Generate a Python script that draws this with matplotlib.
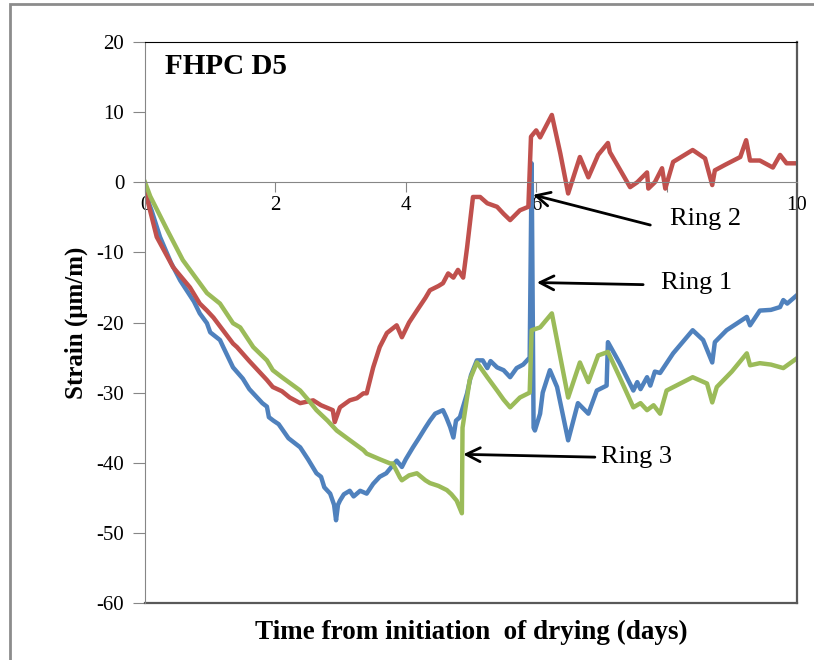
import matplotlib.pyplot as plt
from matplotlib.patches import Rectangle

plt.rcParams['font.family'] = ['Liberation Serif', 'DejaVu Serif']
plt.rcParams['axes.unicode_minus'] = False

# Ring 1 (blue)
ring1_x = [0, 0.1, 0.23, 0.4, 0.54, 0.75, 0.84, 0.95, 1.0, 1.15, 1.2, 1.35, 1.5, 1.6, 1.7,
           1.8, 1.87, 1.9, 1.97, 2.05, 2.2, 2.38, 2.5, 2.63, 2.7, 2.75, 2.84, 2.9, 2.93, 2.96,
           2.99, 3.05, 3.14, 3.2, 3.3, 3.4, 3.5, 3.6, 3.7, 3.86, 3.94, 4.0, 4.11, 4.2, 4.3,
           4.37, 4.45, 4.57, 4.62, 4.68, 4.73, 4.77, 4.83, 4.94, 5.0, 5.09, 5.18, 5.25, 5.3,
           5.4, 5.5, 5.6, 5.7, 5.8, 5.9, 5.93, 5.96, 5.98, 6.06, 6.1, 6.21, 6.32, 6.49, 6.64,
           6.8, 6.93, 7.08, 7.1, 7.28, 7.49, 7.55, 7.6, 7.7, 7.75, 7.82, 7.9, 8.1, 8.4, 8.56,
           8.7, 8.74, 8.92, 9.1, 9.23, 9.28, 9.43, 9.6, 9.74, 9.79, 9.85, 10.0]
ring1_y = [-1.5, -4, -7.8, -11.5, -14, -17, -18.7, -20.1, -21.4, -22.5, -23.5, -26.4, -28, -29.5, -30.5,
           -31.5, -32, -33.5, -34, -34.5, -36.5, -37.8, -39.5, -41.5, -42, -43.5, -44.4, -46, -48.2, -46,
           -45.4, -44.5, -44, -44.8, -44, -44.4, -43, -42, -41.5, -39.7, -40.6, -39.5, -37.8, -36.5, -35,
           -34, -33, -32.5, -33.5, -34.9, -36.4, -34, -33.5, -30.1, -27.5, -25.4, -25.4, -26.5, -25.5,
           -26.4, -26.8, -27.8, -26.5, -26, -25, 2.7, -35, -35.4, -33, -30, -26.8, -29.2, -36.8, -31.5,
           -33, -29.7, -29, -22.8, -25.8, -29.7, -28.5, -29.5, -27.8, -29, -27, -27.2, -24.4, -21.1, -22.5,
           -25.7, -22.8, -21.1, -20, -19.2, -20.4, -18.3, -18.2, -17.8, -16.8, -17.3, -16.1]

# Ring 2 (red)
ring2_x = [0, 0.05, 0.18, 0.43, 0.69, 0.84, 0.95, 1.05, 1.35, 1.41, 1.6, 1.87, 1.96, 2.1, 2.22,
           2.38, 2.58, 2.7, 2.88, 2.91, 2.99, 3.14, 3.25, 3.35, 3.4, 3.5, 3.6, 3.71, 3.86, 3.94,
           4.05, 4.17, 4.3, 4.37, 4.5, 4.57, 4.65, 4.73, 4.8, 4.88, 4.94, 5.03, 5.14, 5.25, 5.4,
           5.5, 5.6, 5.75, 5.88, 5.92, 6.0, 6.06, 6.24, 6.37, 6.49, 6.67, 6.8, 6.95, 7.1, 7.13,
           7.44, 7.55, 7.7, 7.72, 7.82, 7.93, 7.98, 8.1, 8.4, 8.59, 8.7, 8.74, 8.9, 9.13, 9.22,
           9.28, 9.43, 9.63, 9.74, 9.84, 10.0]
ring2_y = [-1.5, -3, -7.8, -12.1, -15, -17.3, -18.3, -19.3, -23, -23.5, -25.5, -28.2, -29.2, -29.8, -30.7,
           -31.5, -31.1, -31.8, -32.5, -34.2, -32.1, -31.1, -30.8, -30.1, -30.1, -26.4, -23.5, -21.5, -20.4, -22.1,
           -20, -18.3, -16.5, -15.4, -14.8, -14.4, -13, -13.6, -12.5, -13.6, -9.3, -2.1, -2.1, -3, -3.5,
           -4.5, -5.4, -4, -3.5, 6.5, 7.4, 6.4, 9.6, 4.1, -1.6, 3.6, 0.7, 3.9, 5.6, 4.3,
           -0.7, 0, 1.4, -0.9, 0, 2, -0.9, 2.9, 4.6, 3.4, -0.4, 1.7, 2.5, 3.6, 6,
           3.1, 3.1, 2.1, 3.9, 2.7, 2.7]

# Ring 3 (green)
ring3_x = [0, 0.08, 0.34, 0.58, 0.84, 0.95, 1.15, 1.35, 1.46, 1.66, 1.87, 1.96, 2.1, 2.38, 2.5,
           2.63, 2.8, 2.94, 3.1, 3.35, 3.4, 3.6, 3.76, 3.8, 3.91, 3.94, 4.05, 4.17, 4.3, 4.37,
           4.5, 4.63, 4.7, 4.78, 4.86, 4.87, 4.98, 5.09, 5.25, 5.4, 5.5, 5.6, 5.75, 5.9, 5.93,
           6.06, 6.24, 6.49, 6.67, 6.8, 6.95, 7.1, 7.28, 7.49, 7.6, 7.7, 7.8, 7.9, 8.0, 8.4,
           8.62, 8.7, 8.77, 9.0, 9.23, 9.28, 9.43, 9.6, 9.79, 10.0]
ring3_y = [0, -2, -6.8, -11.1, -14.4, -15.8, -17.3, -20.1, -20.7, -23.5, -25.4, -26.8, -27.8, -29.7, -31,
           -32.5, -34, -35.4, -36.5, -38.2, -38.7, -39.5, -40.1, -40.1, -42.1, -42.5, -41.8, -41.5, -42.5, -42.9,
           -43.3, -43.9, -44.5, -45.4, -47.2, -35, -28.2, -25.7, -27.8, -29.7, -31, -32.1, -30.7, -30, -21.1,
           -20.7, -18.7, -30.7, -25.7, -28.5, -24.7, -24.2, -27.8, -32.1, -31.5, -32.5, -31.8, -33, -29.7, -27.8,
           -28.7, -31.4, -29.2, -27, -24.4, -26.1, -25.8, -26, -26.5, -25.1]

y_ticks = [20, 10, 0, -10, -20, -30, -40, -50, -60]
x_ticks = [0, 2, 4, 6, 8, 10]
# the "8" label is hidden behind the Ring 2 callout in the original
x_ticklabels = ['0', '2', '4', '6', '', '10']

fig = plt.figure(figsize=(8.14, 6.6), dpi=100)
fig.patches.append(Rectangle((10 / 814, -0.1), 1.2, 1.1 - 4 / 660, transform=fig.transFigure,
                             fill=False, edgecolor='#8c8c8c', linewidth=2))
ax = fig.add_axes([145 / 814, 57 / 660, 652 / 814, 561 / 660])

ax.plot(ring1_x, ring1_y, color='#4F81BD', lw=3.2)
ax.plot(ring2_x, ring2_y, color='#C0504D', lw=3.2)
ax.plot(ring3_x, ring3_y, color='#9BBB59', lw=3.2)

ax.set_xlim(0, 10)
ax.set_ylim(-60, 20)
ax.set_yticks(y_ticks)
ax.set_xticks(x_ticks)
ax.set_xticklabels(x_ticklabels)

ax.spines['bottom'].set_position(('data', 0))
ax.spines['bottom'].set_color('#868686')
ax.spines['left'].set_color('#868686')
ax.spines['top'].set_color('black')
ax.spines['right'].set_color('#595959')
ax.spines['right'].set_linewidth(1.6)
ax.plot([0, 1], [0, 0], transform=ax.transAxes, color='#595959', lw=1.6, clip_on=False)

ax.tick_params(axis='y', direction='out', length=9, color='#868686', labelsize=15, pad=6)
ax.tick_params(axis='x', direction='out', length=7, color='#868686', labelsize=15, pad=3)

ax.set_ylabel('Strain (\u03bcm/m)', fontsize=18, fontweight='bold', labelpad=6)
ax.set_xlabel('Time from initiation  of drying (days)', fontsize=19.5, fontweight='bold')
ax.xaxis.set_label_coords(0.5, -0.03)

ax.text(0.031, 0.98, 'FHPC D5', transform=ax.transAxes, fontsize=21, fontweight='bold',
        va='top', ha='left')

arrow = dict(arrowstyle='->', color='black', lw=2, mutation_scale=25, shrinkA=0, shrinkB=0)
ax.annotate('', xy=(5.95, -1.8), xytext=(7.75, -6.1), arrowprops=arrow)
ax.text(8.05, -5.3, 'Ring 2', fontsize=19, va='center', ha='left')
ax.annotate('', xy=(6.01, -14.3), xytext=(7.64, -14.6), arrowprops=arrow)
ax.text(7.92, -14.3, 'Ring 1', fontsize=19, va='center', ha='left')
ax.annotate('', xy=(4.88, -38.8), xytext=(6.9, -39.2), arrowprops=arrow)
ax.text(7.0, -39.2, 'Ring 3', fontsize=19, va='center', ha='left')

fig.savefig('out.png', dpi=100)
